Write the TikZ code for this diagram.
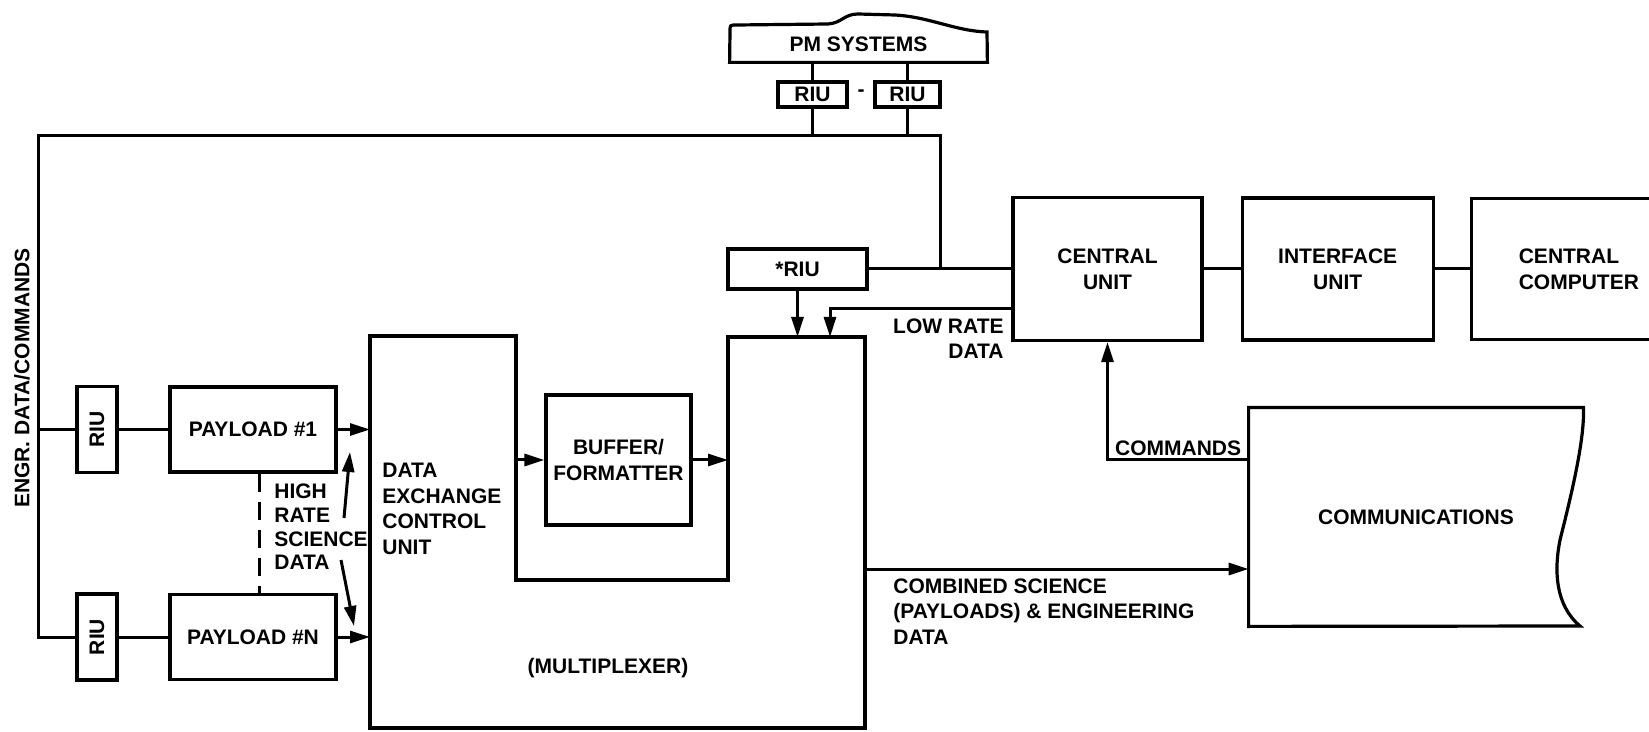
\documentclass[tikz,border=0pt]{standalone}
\usepackage{fontspec}
\setmainfont{Liberation Sans}
\usepackage{graphicx}
\usetikzlibrary{arrows.meta, positioning}
\tikzset{
	blk/.style ={rectangle, draw=black, line width=1.6pt, inner sep=0pt, align=center},
	riu/.style ={blk, minimum width=20pt, minimum height=43pt},
	lbl/.style ={inner sep=0pt, align=left},
	wire/.style={line width=1.5pt},
	sig/.style ={-{Triangle[length=10pt, width=6pt]}, line width=1.5pt},
	% payload link
	hrlink/.style={line width=1.5pt, dash pattern=on 9pt off 5pt},
}

\begin{document}
\begin{tikzpicture}[x=0.5pt, y=-0.5pt, font=\bfseries\fontsize{10.5}{12.8}\selectfont]
\clip (0,0) rectangle (1649,732);
% PM systems and bus
\node[minimum width=128.5pt, minimum height=17.5pt, inner sep=0pt] (pm) at (858.5,44.5) {PM SYSTEMS};
\draw[line width=1.6pt] (pm.south west) -- (730,31) .. controls (730,25) .. (737,25) -- (828,24)
  .. controls (842,23) and (844,14) .. (858,14) -- (895,15) .. controls (930,17) and (955,31) .. (987,32)
  -- (pm.south east) -- cycle;
\node[blk, minimum width=34.5pt, minimum height=12.5pt] (riuA) at (812.5,94.5) {RIU};
\node[blk, minimum width=32.5pt, minimum height=12.5pt] (riuB) at (907.5,94.5) {RIU};
\node (dash) at (861,93) {-};
\coordinate (busL) at (38,136);
\coordinate (busR) at (940,136);
\draw[wire] (riuA |- pm.south) -- (riuA.north) (riuA.south) -- (riuA |- busL);
\draw[wire] (riuB |- pm.south) -- (riuB.north) (riuB.south) -- (riuB |- busL);

% payloads
\node[rotate=90] (engr) at (22,378) {ENGR. DATA/COMMANDS};
\node[riu] (riu1) at (97,429.5) {\rotatebox{90}{RIU}};
\node[riu] (riuN) at (97,637) {\rotatebox{90}{RIU}};
\node[blk, minimum width=83pt, minimum height=42.5pt] (pl1) at (253,429.5) {PAYLOAD \#1};
\node[blk, minimum width=83pt, minimum height=42.5pt] (plN) at (253,637) {PAYLOAD \#N};
\draw[wire] (riu1.west) -- (riu1 -| busL);
\draw[wire] (riu1) -- (pl1);
\draw[wire] (riuN) -- (plN);
\draw[hrlink] ([xshift=3pt]pl1.south) -- ([xshift=3pt]plN.north);
\node[lbl, anchor=west, font=\bfseries\fontsize{10.5}{11.8}\selectfont] (hr) at (274,527) {HIGH\\RATE\\SCIENCE\\DATA};
\coordinate (upA) at (344,518);
\coordinate (upB) at (350,452);
\coordinate (dnA) at (341,560);
\coordinate (dnB) at (354,626);
\draw[sig] (upA) -- (upB);
\draw[sig] (dnA) -- (dnB);

% multiplexer
\draw[line width=1.6pt] (370,336) coordinate (mxL) -- (516,336) -- (516,580) coordinate (nL)
  -- (728,580) coordinate (nR) -- (728,337) coordinate (mxT) -- (865,337) -- (865,728) coordinate (mxR)
  -- (370,728) -- cycle;
\draw[sig] (pl1) -- (pl1 -| mxL);
\draw[sig] (plN) -- (plN -| mxL);
\node[blk, minimum width=72.5pt, minimum height=65pt] (buf) at (618.5,460) {BUFFER/\\FORMATTER};
\draw[sig] (buf -| nL) -- (buf);
\draw[sig] (buf) -- (buf -| nR);
\node[lbl, anchor=west] (dx) at (382,509) {DATA\\EXCHANGE\\CONTROL\\UNIT};
\node (mux) at (608,668) {(MULTIPLEXER)};

% central units
\node[blk, minimum width=69.5pt, minimum height=20pt] (sriu) at (797.5,269) {*RIU};
\node[blk, minimum width=94.5pt, minimum height=71.5pt] (cu) at (1107.5,269) {CENTRAL\\UNIT};
\node[blk, minimum width=95.5pt, minimum height=71pt, right=18.5pt of cu] (iu) {INTERFACE\\UNIT};
\node[blk, minimum width=107.5pt, minimum height=70.5pt, align=left, right=17.5pt of iu] (cc) {CENTRAL\\COMPUTER};
\draw[wire] (sriu) -- (cu);
\draw[wire] (cu) -- (iu);
\draw[wire] (iu) -- (cc);
\draw[wire] (riuN.west) -| (busL) -| (busR |- cu.west);
\draw[sig] (sriu.south) -- (sriu.south |- mxT);
\coordinate (lowin) at (830,337);
\draw[sig] ([yshift=-20pt]cu.west) -| (lowin);
\node[lbl, align=right, anchor=north east] (lrd) at (1004,318) {LOW RATE\\DATA};

% communications
\node[minimum width=167pt, minimum height=109pt, inner sep=0pt] (comm) at (1416,517) {COMMUNICATIONS};
\draw[line width=1.6pt] (comm.north west) -- (comm.north east) .. controls (1585,440) and (1570,500) .. (1560,540)
  .. controls (1554,570) and (1555,605) .. (1580,626) -- (comm.south west) -- cycle;
\draw[sig] ([yshift=-26pt]comm.north west) -| node[pos=0, anchor=south east, inner xsep=3pt, inner ysep=1pt] {COMMANDS} (cu.south);
\coordinate (cm) at ([yshift=-26pt]comm.west);
\draw[sig] (cm -| mxR) -- (cm);
\node[lbl, anchor=north west] (cs) at (893,578) {COMBINED SCIENCE\\(PAYLOADS) \& ENGINEERING\\DATA};
\end{tikzpicture}
\end{document}
